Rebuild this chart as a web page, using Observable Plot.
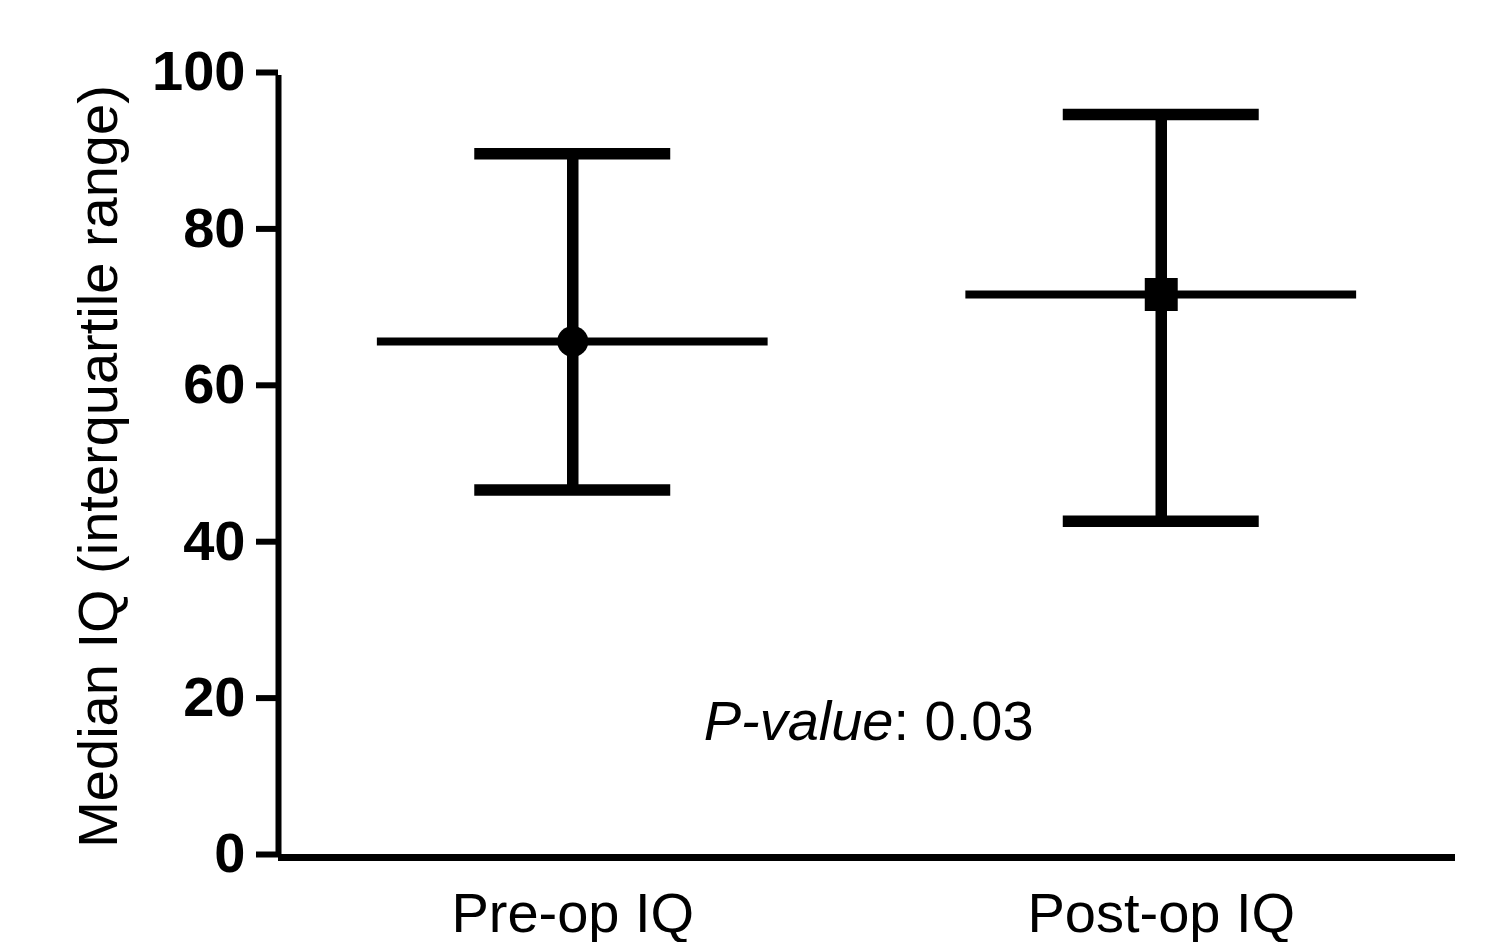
<!DOCTYPE html>
<html>
<head>
<meta charset="utf-8">
<script src="https://cdn.jsdelivr.net/npm/d3@7"></script>
<script src="https://cdn.jsdelivr.net/npm/@observablehq/plot@0.6"></script>
<style>
  html, body { margin: 0; padding: 0; background: #fff; }
  #chart { width: 1494px; height: 942px; overflow: hidden; }
</style>
</head>
<body>
<div id="chart"></div>
<script>
// ---- data ----
const categories = ["Pre-op IQ", "Post-op IQ"];
const medians = [66, 72];
const lowerQuartiles = [47, 43];
const upperQuartiles = [90, 95];
const yTicks = [0, 20, 40, 60, 80, 100];
const yLabel = "Median IQ (interquartile range)";
const pLabelItalic = "P-value";
const pLabelRest = ": 0.03";

// table built from arrays
const groups = categories.map((c, i) => ({
  name: c,
  pos: i + 0.5,
  median: medians[i],
  lo: lowerQuartiles[i],
  hi: upperQuartiles[i]
}));

const font = "'Liberation Sans', Arial, Helvetica, sans-serif";
const capHalf = 0.1665;
const medHalf = 0.332;

const chart = Plot.plot({
  width: 1494,
  height: 942,
  marginLeft: 278,
  marginRight: 39,
  marginTop: 75,
  marginBottom: 85,
  style: { fontFamily: font, background: "#fff", color: "#000" },
  x: { domain: [0, categories.length], axis: null },
  y: { domain: [0, 100], axis: null },
  marks: [
    // y axis ticks + labels
    Plot.axisY({
      ticks: yTicks,
      tickSize: 22,
      tickPadding: 11,
      strokeWidth: 6,
      fontSize: 56,
      fontWeight: "bold",
      dy: -3,
      label: null
    }),
    // x axis category labels
    Plot.axisX({
      ticks: groups.map(d => d.pos),
      tickFormat: (v) => categories[Math.round(v - 0.5)],
      tickSize: 0,
      tickPadding: 35,
      fontSize: 56,
      label: null
    }),
    // axis lines
    Plot.ruleX([0], { y1: 0, y2: 100, strokeWidth: 6, stroke: "#000" }),
    Plot.ruleY([0], { strokeWidth: 7, stroke: "#000" }),
    // y axis title
    Plot.text([yLabel], {
      text: d => d,
      frameAnchor: "left",
      rotate: -90,
      lineAnchor: "top",
      textAnchor: "middle",
      dx: -201,
      fontSize: 56,
      fill: "#000"
    }),
    // vertical IQR bars
    Plot.ruleX(groups, { x: "pos", y1: "lo", y2: "hi", strokeWidth: 11.5, stroke: "#000" }),
    // caps
    Plot.ruleY(groups, { y: "hi", x1: d => d.pos - capHalf, x2: d => d.pos + capHalf, strokeWidth: 11.5, stroke: "#000" }),
    Plot.ruleY(groups, { y: "lo", x1: d => d.pos - capHalf, x2: d => d.pos + capHalf, strokeWidth: 11.5, stroke: "#000" }),
    // median lines
    Plot.ruleY(groups, { y: "median", x1: d => d.pos - medHalf, x2: d => d.pos + medHalf, strokeWidth: 8, stroke: "#000" }),
    // median markers
    Plot.dot([groups[0]], { x: "pos", y: "median", r: 15.5, symbol: "circle", fill: "#000", stroke: "none" }),
    Plot.dot([groups[1]], { x: "pos", y: "median", r: 18.6, symbol: "square", fill: "#000", stroke: "none" }),
    // p-value annotation
    Plot.text([pLabelItalic], {
      text: d => d, x: categories.length / 2, y: 17.3, dx: 26.5,
      textAnchor: "end", lineAnchor: "middle", fontSize: 56, fontStyle: "italic", fill: "#000"
    }),
    Plot.text([pLabelRest], {
      text: d => d, x: categories.length / 2, y: 17.3, dx: 26.5,
      textAnchor: "start", lineAnchor: "middle", fontSize: 56, fill: "#000"
    })
  ]
});

document.getElementById("chart").appendChild(chart);
</script>
</body>
</html>
